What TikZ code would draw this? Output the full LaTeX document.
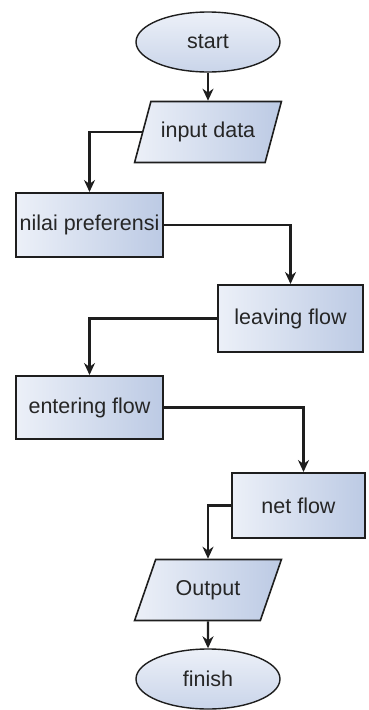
\documentclass[tikz,border=0pt]{standalone}
\usepackage{fontspec}
\setmainfont{Liberation Sans}
\usepackage{tikz}
\usetikzlibrary{arrows.meta, positioning, shapes.geometric}
\usepackage{xcolor}
\definecolor{flowlight}{RGB}{236,240,248}
\definecolor{flowdark}{RGB}{188,202,228}
\definecolor{flowline}{RGB}{30,30,30}

\begin{document}
\begin{tikzpicture}[x=1pt, y=-1pt,
    term/.style={draw=flowline, ellipse, line width=1.4pt, minimum width=144pt, minimum height=60pt, top color=flowlight, bottom color=flowdark!80, font=\fontsize{21.5}{24}\selectfont, text=black!85},
    io/.style={draw=flowline, trapezium, trapezium left angle=58, trapezium right angle=122, trapezium stretches=true, line width=1.6pt, minimum width=147pt, minimum height=61pt, left color=flowlight, right color=flowdark, font=\fontsize{21.5}{24}\selectfont, text=black!85, inner sep=1pt},
    box/.style={draw=flowline, rectangle, line width=2pt, minimum height=64pt, left color=flowlight, right color=flowdark, font=\fontsize{21.5}{24}\selectfont, text=black!85, inner sep=1pt},
    arr/.style={-{Stealth[length=12pt, width=11pt]}, line width=2.2pt, draw=flowline}
]
\useasboundingbox (0,0) rectangle (368,710);

\node[term] (start) at (208,42) {start};
\node[io] (indata) at (208,132) {input data};
\node[box, minimum width=147pt] (nilai) at (89.5,225) {nilai preferensi};
\node[box, minimum width=145pt, minimum height=67pt] (leaving) at (290.5,318.5) {leaving flow};
\node[box, minimum width=147pt, minimum height=63pt] (entering) at (89.5,407.5) {entering flow};
\node[box, minimum width=133pt, minimum height=65pt] (net) at (298.5,505.5) {net flow};
\node[io] (out) at (208,590) {Output};
\node[term] (finish) at (208,679) {finish};

\draw[arr] (start) -- (indata);
\draw[arr] (indata.west) -| (nilai.north);
\draw[arr] (nilai.east) -| (leaving.north);
\draw[arr] (leaving.west) -| (entering.north);
\draw[arr] (entering.east) -| ([xshift=5pt]net.north);
\draw[arr] (net.west) -| (out.north);
\draw[arr] (out) -- (finish);
\end{tikzpicture}
\end{document}
